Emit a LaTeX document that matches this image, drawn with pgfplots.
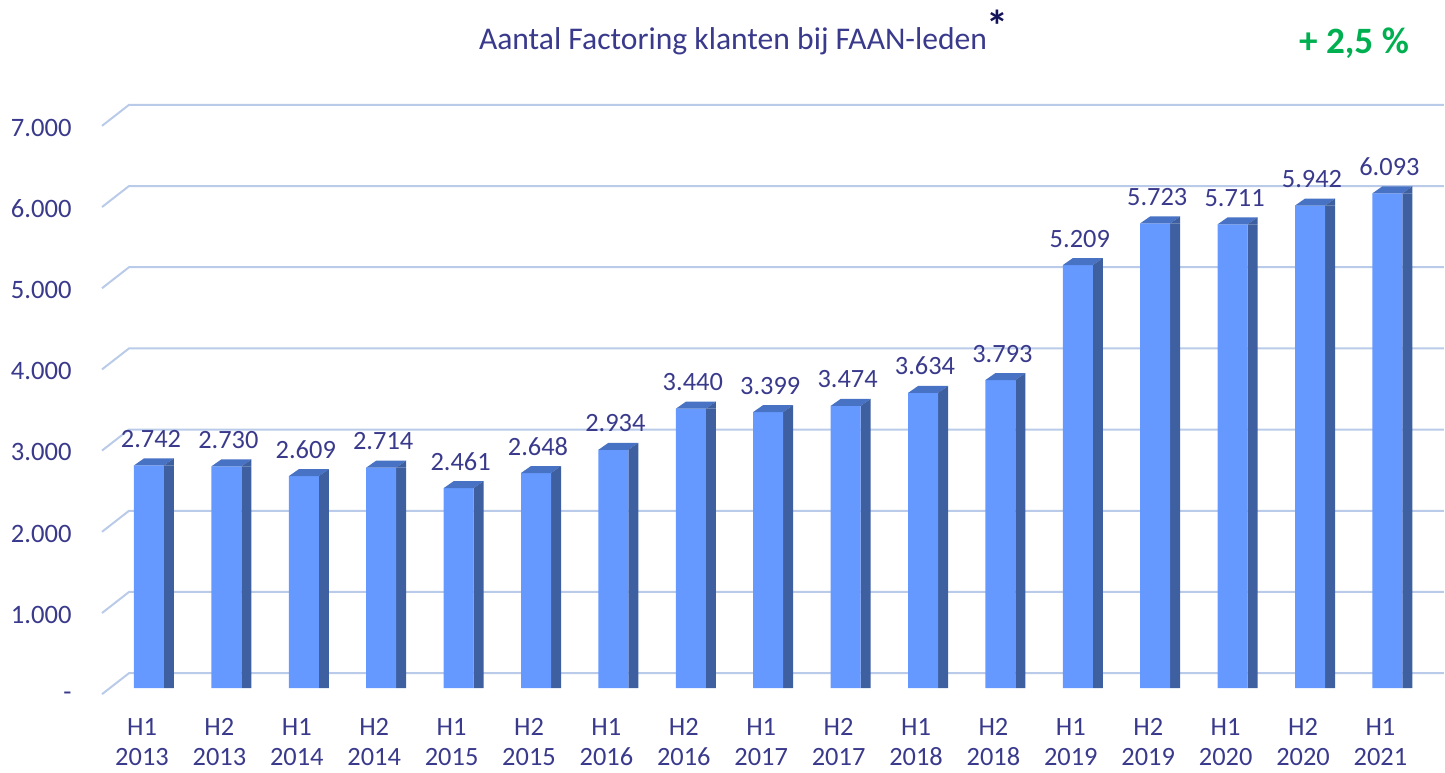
\documentclass[border=0pt]{standalone}
\usepackage{pgfplots}
\pgfplotsset{compat=1.18}
\usepackage{pgfplotstable}
\usepackage{fontspec}
\setmainfont{Carlito}
\definecolor{frontc}{RGB}{102,153,255}
\definecolor{topc}{RGB}{72,114,196}
\definecolor{sidec}{RGB}{62,95,160}
\definecolor{gridc}{RGB}{185,203,232}
\definecolor{txtc}{RGB}{58,58,140}
\definecolor{navyc}{RGB}{20,20,90}
\definecolor{greenc}{RGB}{0,176,80}
\pgfdeclareplotmark{bartop}{%
  \pgfpathmoveto{\pgfpoint{-7.5pt}{0pt}}%
  \pgfpathlineto{\pgfpoint{-2.5pt}{3.5pt}}%
  \pgfpathlineto{\pgfpoint{12.5pt}{3.5pt}}%
  \pgfpathlineto{\pgfpoint{7.5pt}{0pt}}%
  \pgfpathclose
  \pgfsetfillcolor{topc}%
  \pgfusepathqfill
  \pgfpathmoveto{\pgfpoint{7.5pt}{0pt}}%
  \pgfpathlineto{\pgfpoint{12.5pt}{3.5pt}}%
  \pgfpathlineto{\pgfpoint{12.5pt}{0pt}}%
  \pgfpathclose
  \pgfsetfillcolor{sidec}%
  \pgfusepathqfill
}
\pgfplotstableread{
i v
0 2742
1 2730
2 2609
3 2714
4 2461
5 2648
6 2934
7 3440
8 3399
9 3474
10 3634
11 3793
12 5209
13 5723
14 5711
15 5942
16 6093
}\data
\begin{document}
\begin{tikzpicture}
\begin{axis}[
  at={(0,0)}, anchor=south west,
  scale only axis, width=722.5pt, height=386pt,
  xmin=-1.925, xmax=16.744, ymin=-1034.6, ymax=8474,
  clip=false,
  axis line style={draw=none},
  major tick length=0pt, tick style={draw=none},
  xtick={0,...,16},
  xticklabels={{H1\\2013},{H2\\2013},{H1\\2014},{H2\\2014},{H1\\2015},{H2\\2015},{H1\\2016},{H2\\2016},{H1\\2017},{H2\\2017},{H1\\2018},{H2\\2018},{H1\\2019},{H2\\2019},{H1\\2020},{H2\\2020},{H1\\2021}},
  x tick label style={align=center, anchor=north, inner sep=0pt, yshift=27pt, xshift=-3.5pt,
    font=\fontsize{13.2}{15.2}\selectfont, text=txtc},
  ytick={0,1000,2000,3000,4000,5000,6000,7000},
  yticklabels={-\hspace{5.5pt},1.000,2.000,3.000,4.000,5.000,6.000,7.000},
  y tick label style={anchor=east, inner sep=0pt, xshift=36pt, yshift=-4pt,
    font=\fontsize{13.3}{15.5}\selectfont, text=txtc},
]
% back-wall gridlines
\addplot[gridc, line width=1pt] coordinates {(-0.607,-76) (-0.258,183) (16.73,183)};
\addplot[gridc, line width=1pt] coordinates {(-0.607,924) (-0.258,1183) (16.73,1183)};
\addplot[gridc, line width=1pt] coordinates {(-0.607,1924) (-0.258,2183) (16.73,2183)};
\addplot[gridc, line width=1pt] coordinates {(-0.607,2924) (-0.258,3183) (16.73,3183)};
\addplot[gridc, line width=1pt] coordinates {(-0.607,3924) (-0.258,4183) (16.73,4183)};
\addplot[gridc, line width=1pt] coordinates {(-0.607,4924) (-0.258,5183) (16.73,5183)};
\addplot[gridc, line width=1pt] coordinates {(-0.607,5924) (-0.258,6183) (16.73,6183)};
\addplot[gridc, line width=1pt] coordinates {(-0.607,6924) (-0.258,7183) (16.73,7183)};
% side faces
\addplot[ybar, bar width=5pt, bar shift=10pt, fill=sidec, draw=none] table[x=i,y=v]{\data};
% front faces
\addplot[ybar, bar width=15pt, bar shift=0pt, fill=frontc, draw=none,
  nodes near coords,
  nodes near coords style={anchor=base, inner sep=0pt, yshift=9pt, xshift=1pt,
    font=\fontsize{13.2}{15.5}\selectfont, text=txtc,
    /pgf/number format/.cd, fixed, 1000 sep={.}, assume math mode=true}
  ] table[x=i,y=v]{\data};
% top faces
\addplot[only marks, mark=bartop] table[x=i,y=v]{\data};
\node[text=txtc, font=\fontsize{15.8}{18}\selectfont, anchor=base] at (rel axis cs:0.5073,0.9361) {Aantal Factoring klanten bij FAAN-leden};
\node[text=navyc, font=\fontsize{22}{24}\selectfont\bfseries, anchor=north, inner sep=0pt] at (rel axis cs:0.690,0.988) {*};
\node[text=greenc, font=\fontsize{18.6}{20}\selectfont\bfseries, anchor=base] at (rel axis cs:0.937,0.9313) {+ 2,5 \%};
\end{axis}
\pgfresetboundingbox
\path (0,0) rectangle (722.5pt,386pt);
\end{tikzpicture}
\end{document}
